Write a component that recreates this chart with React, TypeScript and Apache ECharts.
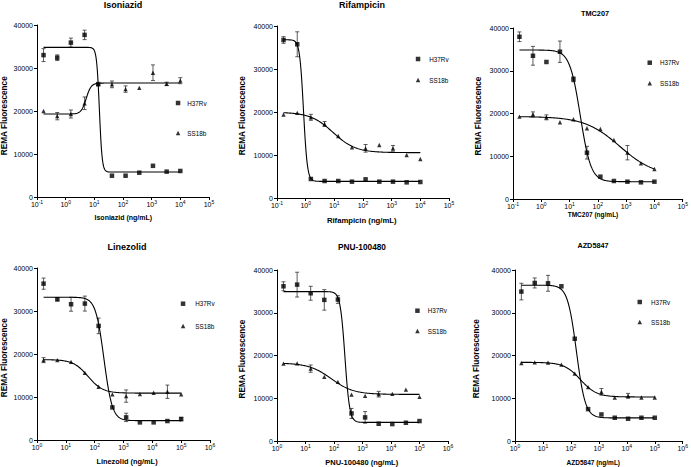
import React, { useEffect, useRef } from 'react';
import * as echarts from 'echarts';

// ---------- data ----------
const X_TOP = [0.169, 0.508, 1.52, 4.57, 13.7, 41.2, 123, 370, 1111, 3333, 10000];
const X_BOTTOM = [1.69, 5.08, 15.2, 45.7, 137, 412, 1235, 3704, 11111, 33333, 100000];
const Y_TICKS = [0, 10000, 20000, 30000, 40000];
const STRAINS = ['H37Rv', 'SS18b'];
const TITLES = ['Isoniazid', 'Rifampicin', 'TMC207', 'Linezolid', 'PNU-100480', 'AZD5847'];
const X_NAMES = ['Isoniazid (ng/mL)', 'Rifampicin (ng/mL)', 'TMC207 (ng/mL)', 'Linezolid (ng/mL)', 'PNU-100480 (ng/mL)', 'AZD5847 (ng/mL)'];
const Y_NAME = 'REMA Fluorescence';
const X_RANGE_TOP = [0.1, 100000];
const X_RANGE_BOTTOM = [1, 1000000];

const INH_H37RV = [33000, 32400, 35900, 37700, 26250, 4950, 4950, 5650, 7250, 5900, 6050];
const INH_H37RV_ERR = [1500, 650, 1050, 1100, 0, 0, 0, 0, 0, 0, 0];
const INH_SS18B = [20000, 18800, 19300, 21800, 26280, 26200, 25100, 25400, 28900, 26300, 27050];
const INH_SS18B_ERR = [0, 850, 930, 1470, 0, 780, 740, 0, 1820, 400, 700];

const RIF_H37RV = [36750, 35750, 4420, 3950, 3950, 3800, 4340, 3800, 3800, 3640, 3720];
const RIF_H37RV_ERR = [775, 2900, 0, 0, 0, 0, 0, 0, 0, 0, 0];
const RIF_SS18B = [19400, 19800, 18760, 17210, 14420, 11780, 11550, 12330, 11550, 10000, 9070];
const RIF_SS18B_ERR = [0, 0, 700, 580, 0, 0, 890, 0, 660, 0, 0];

const TMC_H37RV = [37950, 33500, 32050, 34450, 28000, 10830, 5220, 4210, 4050, 3900, 4050];
const TMC_H37RV_ERR = [1130, 2200, 0, 2500, 580, 1480, 0, 0, 0, 0, 0];
const TMC_SS18B = [19250, 19800, 19100, 17950, 18650, 16550, 16370, 13800, 10830, 8350, 7020];
const TMC_SS18B_ERR = [0, 580, 580, 0, 0, 0, 0, 0, 1680, 0, 0];

const LZD_H37RV = [36360, 32730, 31570, 31720, 26540, 7580, 5260, 4100, 4100, 4410, 4870];
const LZD_H37RV_ERR = [1300, 400, 1620, 1740, 1820, 0, 970, 0, 0, 0, 400];
const LZD_SS18B = [18570, 18570, 18180, 15630, 12380, 10600, 10210, 10680, 10990, 11220, 10600];
const LZD_SS18B_ERR = [580, 0, 0, 0, 0, 0, 1430, 0, 0, 1550, 0];

const PNU_H37RV = [36190, 36580, 34560, 33010, 33090, 6450, 5520, 4040, 3960, 4270, 4660];
const PNU_H37RV_ERR = [1050, 2900, 1630, 2400, 900, 1170, 1360, 0, 0, 0, 0];
const PNU_SS18B = [18100, 18180, 16930, 14990, 13830, 10870, 10560, 10950, 11030, 12040, 10330];
const PNU_SS18B_ERR = [0, 0, 850, 0, 0, 0, 0, 660, 0, 0, 0];

const AZD_H37RV = [34950, 36970, 36890, 36190, 23920, 7460, 6210, 5440, 5200, 5440, 5440];
const AZD_H37RV_ERR = [1940, 1170, 1860, 0, 0, 0, 0, 0, 0, 0, 0];
const AZD_SS18B = [18250, 18410, 18330, 17860, 15770, 12580, 11500, 10180, 10560, 10180, 10180];
const AZD_SS18B_ERR = [0, 0, 0, 0, 0, 0, 780, 0, 580, 0, 0];

// fitted dose-response parameters: [low-dose plateau, high-dose plateau, EC50, Hill slope]
const INH_H37RV_FIT = [34800, 5800, 15, 9];
const INH_SS18B_FIT = [19300, 26500, 5.2, 5];
const RIF_H37RV_FIT = [36800, 3870, 0.84, 6.5];
const RIF_SS18B_FIT = [19950, 10550, 9, 1.1];
const TMC_H37RV_FIT = [34850, 4050, 24, 2.3];
const TMC_SS18B_FIT = [19300, 5300, 600, 0.7];
const LZD_H37RV_FIT = [33200, 4500, 210, 3];
const LZD_SS18B_FIT = [18700, 10900, 59, 1.7];
const PNU_H37RV_FIT = [34950, 4350, 242, 5.3];
const PNU_SS18B_FIT = [18250, 10900, 80, 1.1];
const AZD_H37RV_FIT = [36450, 5400, 158, 2.74];
const AZD_SS18B_FIT = [18400, 10300, 220, 1.5];

const PANELS = [
  { x: X_TOP, range: X_RANGE_TOP, h: INH_H37RV, hErr: INH_H37RV_ERR, s: INH_SS18B, sErr: INH_SS18B_ERR, hFit: INH_H37RV_FIT, sFit: INH_SS18B_FIT },
  { x: X_TOP, range: X_RANGE_TOP, h: RIF_H37RV, hErr: RIF_H37RV_ERR, s: RIF_SS18B, sErr: RIF_SS18B_ERR, hFit: RIF_H37RV_FIT, sFit: RIF_SS18B_FIT },
  { x: X_TOP, range: X_RANGE_TOP, h: TMC_H37RV, hErr: TMC_H37RV_ERR, s: TMC_SS18B, sErr: TMC_SS18B_ERR, hFit: TMC_H37RV_FIT, sFit: TMC_SS18B_FIT },
  { x: X_BOTTOM, range: X_RANGE_BOTTOM, h: LZD_H37RV, hErr: LZD_H37RV_ERR, s: LZD_SS18B, sErr: LZD_SS18B_ERR, hFit: LZD_H37RV_FIT, sFit: LZD_SS18B_FIT },
  { x: X_BOTTOM, range: X_RANGE_BOTTOM, h: PNU_H37RV, hErr: PNU_H37RV_ERR, s: PNU_SS18B, sErr: PNU_SS18B_ERR, hFit: PNU_H37RV_FIT, sFit: PNU_SS18B_FIT },
  { x: X_BOTTOM, range: X_RANGE_BOTTOM, h: AZD_H37RV, hErr: AZD_H37RV_ERR, s: AZD_SS18B, sErr: AZD_SS18B_ERR, hFit: AZD_H37RV_FIT, sFit: AZD_SS18B_FIT },
];

// ---------- layout ----------
const LAYOUT = [
  { grid: [37, 25, 172, 172], title: [123, 5, 9], xName: [123.3, 217.3, 7], yName: [4, 115.7], legend: [175.8, 99, 22, 2] },
  { grid: [277, 26, 172, 172], title: [362, 4.5, 9], xName: [361.7, 220, 7.7], yName: [242, 115.7], legend: [415.8, 55, 13, 4] },
  { grid: [513, 28, 171, 171], title: [595, 13, 7.3], xName: [593, 214.5, 6.5], yName: [478.3, 116], legend: [647.5, 58.7, 12.6, 3] },
  { grid: [37, 268, 173, 172], title: [127, 246.5, 9], xName: [127, 461.3, 7.4], yName: [4, 357.7], legend: [180.8, 299.7, 14.3, 5] },
  { grid: [277, 270, 171, 171], title: [362, 247.3, 8.3], xName: [361.7, 462, 7.5], yName: [242, 359], legend: [415.2, 306.7, 12.3, 3] },
  { grid: [515, 270, 170, 171], title: [593, 245.8, 7.3], xName: [593.3, 462.7, 6.5], yName: [476.7, 358.7], legend: [637.5, 298, 12, 4] },
];

const FONT = '"Liberation Sans", Arial, Helvetica, sans-serif';

function fitCurve(fit: number[], xMin: number, xMax: number) {
  const [low, high, ec50, hill] = fit;
  const n = 300;
  const a = Math.log10(xMin);
  const b = Math.log10(xMax);
  const pts: number[][] = [];
  for (let k = 0; k <= n; k++) {
    const x = Math.pow(10, a + ((b - a) * k) / n);
    pts.push([x, high + (low - high) / (1 + Math.pow(x / ec50, hill))]);
  }
  return pts;
}

function errData(xs: number[], ys: number[], es: number[]) {
  const out: number[][] = [];
  xs.forEach((x, k) => {
    if (es[k] > 0) out.push([x, ys[k] - es[k], ys[k] + es[k]]);
  });
  return out;
}

function buildOption() {
  const grid: any[] = [];
  const xAxis: any[] = [];
  const yAxis: any[] = [];
  const series: any[] = [];
  const legend: any[] = [];
  const graphic: any[] = [];

  PANELS.forEach((p, i) => {
    const L = LAYOUT[i];
    grid.push({ left: L.grid[0], top: L.grid[1], width: L.grid[2], height: L.grid[3], containLabel: false });
    xAxis.push({
      type: 'log',
      logBase: 10,
      gridIndex: i,
      min: p.range[0],
      max: p.range[1],
      splitNumber: 6,
      axisLine: { show: true, onZero: false, lineStyle: { color: '#000', width: 1 } },
      axisTick: { show: true, length: 3, lineStyle: { color: '#000', width: 1 } },
      splitLine: { show: false },
      axisLabel: {
        margin: 2,
        formatter: (v: number) => `{b|10}{s|${Math.round(Math.log10(v))}}`,
        rich: {
          b: { fontSize: 7, fontFamily: FONT, color: '#000', lineHeight: 9, verticalAlign: 'bottom' },
          s: { fontSize: 5, fontFamily: FONT, color: '#000', lineHeight: 4, verticalAlign: 'top' },
        },
      },
    });
    yAxis.push({
      type: 'value',
      gridIndex: i,
      min: Y_TICKS[0],
      max: Y_TICKS[Y_TICKS.length - 1],
      interval: Y_TICKS[1] - Y_TICKS[0],
      axisLine: { show: true, onZero: false, lineStyle: { color: '#000', width: 1 } },
      axisTick: { show: true, length: 3, lineStyle: { color: '#000', width: 1 } },
      splitLine: { show: false },
      axisLabel: { fontSize: 7, fontFamily: FONT, color: '#000', margin: 4, formatter: (v: number) => String(v) },
    });

    const xMin = p.x[0];
    const xMax = p.x[p.x.length - 1];

    series.push({
      type: 'custom',
      name: 'error',
      xAxisIndex: i,
      yAxisIndex: i,
      z: 2,
      silent: true,
      data: [...errData(p.x, p.h, p.hErr), ...errData(p.x, p.s, p.sErr)],
      encode: { x: 0, y: [1, 2] },
      renderItem: (params: any, api: any) => {
        const x = api.value(0);
        const top = api.coord([x, api.value(2)]);
        const bot = api.coord([x, api.value(1)]);
        const w = 2;
        const st = { stroke: '#333', lineWidth: 0.8 };
        return {
          type: 'group',
          children: [
            { type: 'line', shape: { x1: top[0], y1: top[1], x2: bot[0], y2: bot[1] }, style: st },
            { type: 'line', shape: { x1: top[0] - w, y1: top[1], x2: top[0] + w, y2: top[1] }, style: st },
            { type: 'line', shape: { x1: bot[0] - w, y1: bot[1], x2: bot[0] + w, y2: bot[1] }, style: st },
          ],
        };
      },
    });
    series.push({
      type: 'line',
      name: 'H37Rv fit',
      xAxisIndex: i,
      yAxisIndex: i,
      z: 3,
      silent: true,
      showSymbol: false,
      data: fitCurve(p.hFit, xMin, xMax),
      lineStyle: { color: '#000', width: 1.1 },
    });
    series.push({
      type: 'line',
      name: 'SS18b fit',
      xAxisIndex: i,
      yAxisIndex: i,
      z: 3,
      silent: true,
      showSymbol: false,
      data: fitCurve(p.sFit, xMin, xMax),
      lineStyle: { color: '#000', width: 1.1 },
    });
    series.push({
      type: 'scatter',
      name: STRAINS[0],
      xAxisIndex: i,
      yAxisIndex: i,
      z: 4,
      symbol: 'rect',
      symbolSize: 4.5,
      itemStyle: { color: '#000' },
      data: p.x.map((x, k) => [x, p.h[k]]),
    });
    series.push({
      type: 'scatter',
      name: STRAINS[1],
      xAxisIndex: i,
      yAxisIndex: i,
      z: 4,
      symbol: 'triangle',
      symbolSize: 4.3,
      itemStyle: { color: '#000' },
      data: p.x.map((x, k) => [x, p.s[k]]),
    });

    legend.push({
      orient: 'vertical',
      left: L.legend[0],
      top: L.legend[1],
      itemGap: L.legend[2],
      itemWidth: 4.5,
      itemHeight: 4.5,
      padding: 0,
      selectedMode: false,
      data: [
        { name: STRAINS[0], icon: 'rect' },
        { name: STRAINS[1], icon: 'triangle' },
      ],
      textStyle: { fontSize: 6.3, fontFamily: FONT, color: '#000', lineHeight: 8, padding: [0, 0, 0, L.legend[3]] },
    });

    graphic.push({
      type: 'text',
      x: L.title[0],
      y: L.title[1],
      style: { text: TITLES[i], fontSize: L.title[2], fontWeight: 'bold', fontFamily: FONT, fill: '#000', align: 'center', verticalAlign: 'middle' },
    });
    graphic.push({
      type: 'text',
      x: L.xName[0],
      y: L.xName[1],
      style: { text: X_NAMES[i], fontSize: L.xName[2], fontWeight: 'bold', fontFamily: FONT, fill: '#000', align: 'center', verticalAlign: 'middle' },
    });
    graphic.push({
      type: 'text',
      x: L.yName[0],
      y: L.yName[1],
      rotation: Math.PI / 2,
      style: { text: Y_NAME, fontSize: 8.2, fontWeight: 'bold', fontFamily: FONT, fill: '#000', align: 'center', verticalAlign: 'middle' },
    });
  });

  return {
    animation: false,
    backgroundColor: '#fff',
    grid,
    xAxis,
    yAxis,
    series,
    legend,
    graphic,
  };
}

export default function App() {
  const ref = useRef<HTMLDivElement>(null);
  useEffect(() => {
    if (!ref.current) return;
    const chart = echarts.init(ref.current, undefined, { renderer: 'svg' });
    chart.setOption(buildOption() as any);
    return () => chart.dispose();
  }, []);
  return <div ref={ref} style={{ position: 'absolute', left: 0, top: 0, width: 691, height: 467 }} />;
}
